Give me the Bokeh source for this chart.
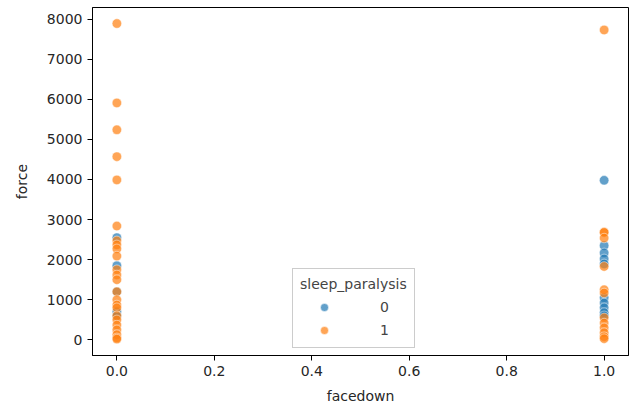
from bokeh.plotting import figure
from bokeh.models import Range1d, Legend, LegendItem, FixedTicker, ColumnDataSource
from bokeh.embed import file_html
from bokeh.resources import INLINE

# sleep_paralysis = 0 (blue)
x0 = [0, 0, 0, 0, 0, 1, 1, 1, 1, 1, 1, 1, 1, 1, 1]
y0 = [2550, 1850, 1200, 700, 600, 3980, 2350, 2170, 2020, 1895, 1050, 920, 800, 680, 600]

# sleep_paralysis = 1 (orange)
x1 = [0, 0, 0, 0, 0, 0, 0, 0, 0, 0, 0, 0, 0, 0, 0, 0, 0, 0, 0, 0, 0, 0, 0, 0,
      1, 1, 1, 1, 1, 1, 1, 1, 1, 1, 1, 1, 1]
y1 = [7890, 5910, 5240, 4570, 3990, 2840, 2470, 2370, 2270, 2090, 1750, 1620,
      1500, 1200, 1000, 870, 800, 600, 500, 370, 250, 130, 50, 20,
      7730, 2690, 2680, 2540, 1830, 1250, 1170, 550, 420, 300, 180, 80, 30]

BLUE = "#1f77b4"
ORANGE = "#ff7f0e"
FONT = "DejaVu Sans"

p = figure(width=630, height=410, output_backend="svg", toolbar_location=None,
           x_range=Range1d(-0.05, 1.05), y_range=Range1d(-390, 8290),
           min_border_left=92, min_border_right=2, min_border_top=7, min_border_bottom=55)

s0 = ColumnDataSource(dict(x=x0, y=y0))
s1 = ColumnDataSource(dict(x=x1, y=y1))
r0 = p.scatter("x", "y", source=s0, size=9.5, fill_color=BLUE, fill_alpha=0.7,
               line_color="white", line_width=0.7, line_alpha=0.7)
r1 = p.scatter("x", "y", source=s1, size=9.5, fill_color=ORANGE, fill_alpha=0.7,
               line_color="white", line_width=0.7, line_alpha=0.7)

p.xgrid.visible = False
p.ygrid.visible = False
p.outline_line_color = "black"
p.outline_line_width = 1
p.background_fill_color = "white"
p.border_fill_color = "white"

p.xaxis.ticker = FixedTicker(ticks=[0.0, 0.2, 0.4, 0.6, 0.8, 1.0])
p.xaxis.major_label_overrides = {0.0: "0.0", 0.2: "0.2", 0.4: "0.4", 0.6: "0.6", 0.8: "0.8", 1.0: "1.0"}
p.yaxis.ticker = FixedTicker(ticks=[0, 1000, 2000, 3000, 4000, 5000, 6000, 7000, 8000])
for ax in (p.xaxis[0], p.yaxis[0]):
    ax.axis_line_color = "black"
    ax.major_tick_line_color = "black"
    ax.major_tick_out = 5
    ax.major_tick_in = 0
    ax.minor_tick_line_color = None
    ax.major_label_text_font = FONT
    ax.major_label_text_font_size = "14px"
    ax.major_label_text_color = "#262626"
    ax.axis_label_text_font = FONT
    ax.axis_label_text_font_size = "14px"
    ax.axis_label_text_font_style = "normal"
    ax.axis_label_text_color = "#262626"
p.xaxis.axis_label = "facedown"
p.yaxis.axis_label = "force"
p.yaxis.major_label_orientation = "horizontal"
p.xaxis.axis_label_standoff = 9
p.yaxis.axis_label_standoff = 14

legend = Legend(items=[LegendItem(label="0", renderers=[r0]),
                       LegendItem(label="1", renderers=[r1])],
                title="sleep_paralysis", location=(200, 7))
legend.title_text_font = FONT
legend.title_text_font_size = "14px"
legend.title_text_font_style = "normal"
legend.title_standoff = 5
legend.label_text_font = FONT
legend.label_text_font_size = "14px"
legend.border_line_color = "#cccccc"
legend.border_line_alpha = 1
legend.background_fill_alpha = 0.8
legend.padding = 7
legend.spacing = 3
legend.label_standoff = 32
legend.glyph_width = 48
legend.glyph_height = 20
legend.margin = 0
legend.label_height = 20
p.add_layout(legend)

open("out.html", "w").write(file_html(p, INLINE))
